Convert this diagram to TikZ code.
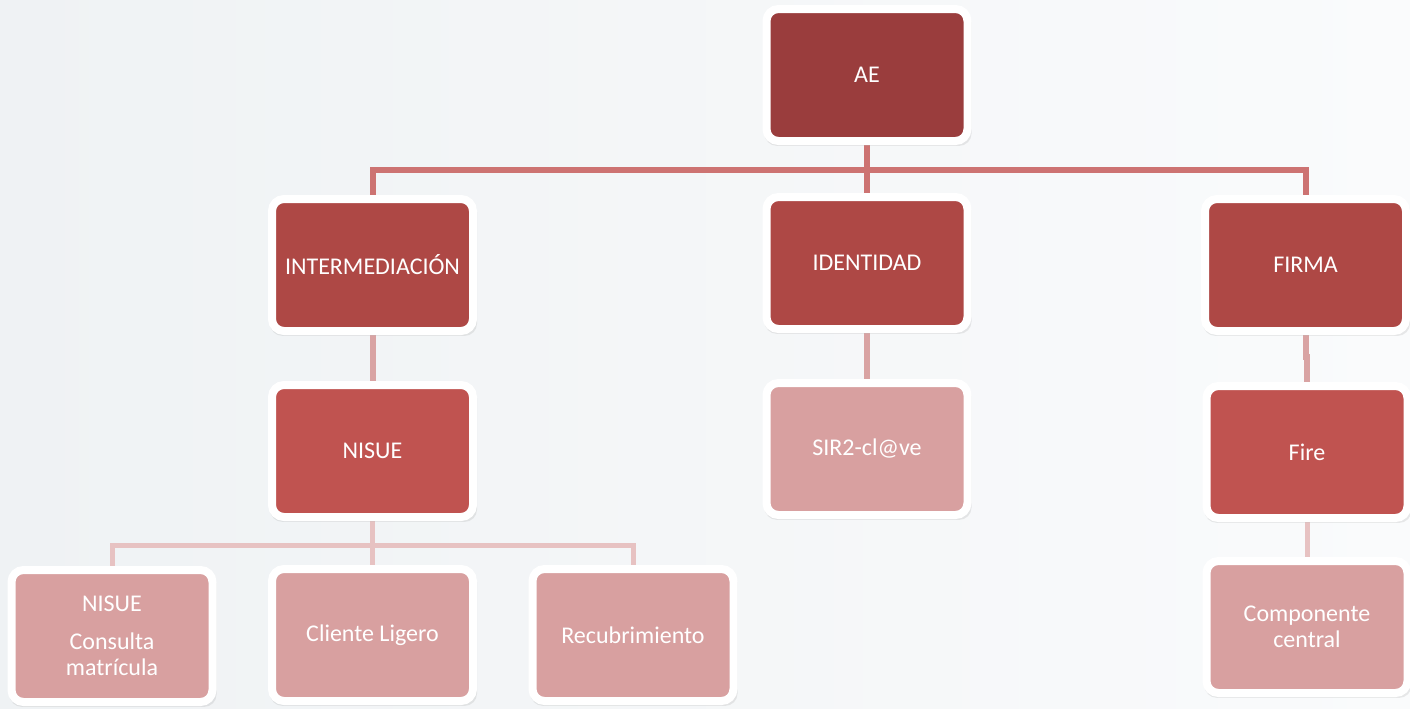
\documentclass[tikz,border=0pt]{standalone}
\usepackage{fontspec}
\setmainfont{Carlito}
\usetikzlibrary{shadows,backgrounds}

\definecolor{boxroot}{HTML}{9A3D3D}
\definecolor{boxmid}{HTML}{AE4845}
\definecolor{boxlow}{HTML}{C05350}
\definecolor{boxpale}{HTML}{D8A0A0}
\definecolor{linedark}{HTML}{CD7372}
\definecolor{linemid}{HTML}{D9A3A3}
\definecolor{linepale}{HTML}{E7C2C2}
\definecolor{pageleft}{HTML}{EFF2F4}
\definecolor{pageright}{HTML}{FAFBFC}

\tikzset{
  box/.style={draw=white, line width=4pt, rounded corners=6pt,
    minimum width=100.5pt, minimum height=66pt, align=center, text=white,
    font=\fontsize{12}{13}\selectfont,
    drop shadow={opacity=0.16, shadow scale=1.03, shadow xshift=0.5pt, shadow yshift=-1.4pt}},
  busdark/.style={draw=linedark, line width=3pt},
  busmid/.style={draw=linemid, line width=3pt},
  buspale/.style={draw=linepale, line width=2.5pt}
}

\begin{document}
\begin{tikzpicture}[x=0.5pt, y=-0.5pt]
    \useasboundingbox (0,0) rectangle (1410,708);

    % Boxes
    \node[box, fill=boxroot] (ae) at (867,75) {AE};

    \node[box, fill=boxmid] (inter) at (372.5,265) {INTERMEDIACIÓN};
    \node[box, fill=boxmid] (ident) at (867,263) {IDENTIDAD};
    \node[box, fill=boxmid] (firma) at (1305.5,265) {FIRMA};

    \node[box, fill=boxlow] (nisue) at (372.5,451) {NISUE};
    \node[box, fill=boxpale] (sir) at (867,449) {SIR2-cl@ve};
    \node[box, fill=boxlow] (fire) at (1307,452) {Fire};

    \node[box, fill=boxpale] (consulta) at (112,636) {NISUE\\[6pt]Consulta\\matrícula};
    \node[box, fill=boxpale] (cliente) at (372.5,635) {Cliente Ligero};
    \node[box, fill=boxpale] (recub) at (633,635) {Recubrimiento};
    \node[box, fill=boxpale] (comp) at (1307,627) {Componente\\central};

    \begin{scope}[on background layer]
        % Page
        \shade[left color=pageleft, right color=pageright] (0,0) rectangle (1410,708);

        % Links
        \draw[busdark] (ae.south) -- (ident.north);
        \draw[busdark] (inter.north) -- ++(0,-25) -| (firma.north);

        \draw[busmid] (inter.south) -- (nisue.north);
        \draw[busmid] (ident.south) -- (sir.north);
        \draw[busmid] (firma.south) -- ++(0,22) -| (fire.north);

        \draw[buspale] (nisue.south) -- ++(0,24) -| (consulta.north);
        \draw[buspale] (nisue.south) -- ++(0,24) -| (recub.north);
        \draw[buspale] (nisue.south) -- (cliente.north);
        \draw[buspale] (fire.south) -- (comp.north);
    \end{scope}
\end{tikzpicture}
\end{document}
